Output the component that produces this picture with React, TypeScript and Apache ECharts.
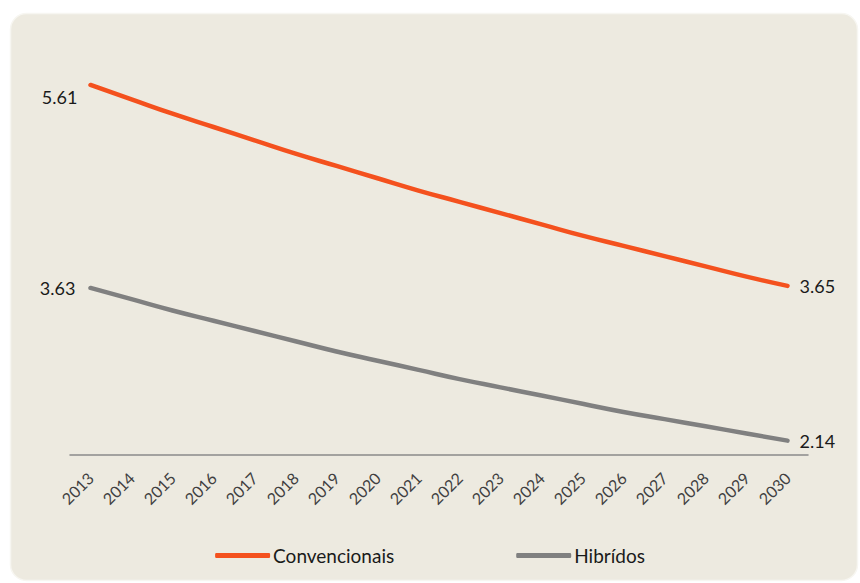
import React, { useEffect, useRef } from "react";
import * as echarts from "echarts";

// Projected consumption per vehicle type, 2013–2030
const years = [
  "2013", "2014", "2015", "2016", "2017", "2018", "2019", "2020", "2021",
  "2022", "2023", "2024", "2025", "2026", "2027", "2028", "2029", "2030",
];
const convencionais = [
  5.61, 5.47, 5.33, 5.2, 5.07, 4.94, 4.82, 4.7, 4.58,
  4.47, 4.36, 4.25, 4.14, 4.04, 3.94, 3.84, 3.74, 3.65,
];
const hibridos = [
  3.63, 3.52, 3.41, 3.31, 3.21, 3.11, 3.01, 2.92, 2.83,
  2.74, 2.66, 2.58, 2.5, 2.42, 2.35, 2.28, 2.21, 2.14,
];
const seriesNames = ["Convencionais", "Hibrídos"];

const FONT = "Lato, 'Open Sans', sans-serif";

// Only the first and last points carry a value label
function endLabels(values: number[], firstOffset: number[], firstDistance: number) {
  const last = values.length - 1;
  return values.map((v, i) => {
    if (i === 0) {
      return {
        value: v,
        label: { show: true, position: "left", distance: firstDistance, offset: firstOffset },
      };
    }
    if (i === last) {
      return { value: v, label: { show: true, position: "right", distance: 12 } };
    }
    return v;
  });
}

export default function App() {
  const ref = useRef<HTMLDivElement>(null);

  useEffect(() => {
    if (!ref.current) return;
    const chart = echarts.init(ref.current, null, { renderer: "svg" });
    const labelStyle = {
      show: false,
      color: "#1a1a1a",
      fontSize: 18,
      fontFamily: FONT,
      formatter: (p: any) => Number(p.value).toFixed(2),
    };
    chart.setOption({
      animation: false,
      backgroundColor: "#ffffff",
      graphic: [
        {
          type: "rect",
          z: -10,
          silent: true,
          shape: { x: 10.5, y: 13.5, width: 847, height: 567, r: 16 },
          style: { fill: "#EDEAE0", stroke: "#F7F6F1", lineWidth: 1.5 },
        },
      ],
      grid: { left: 70, right: 52, top: 45, bottom: 128, containLabel: false },
      xAxis: {
        type: "category",
        data: years,
        boundaryGap: true,
        axisLine: { show: true, lineStyle: { color: "#8a8a8a", width: 1.5 } },
        axisTick: { show: false },
        axisLabel: {
          rotate: 45,
          margin: 20,
          color: "#404040",
          fontSize: 16,
          fontFamily: FONT,
          interval: 0,
        },
        splitLine: { show: false },
      },
      yAxis: {
        type: "value",
        min: 2,
        max: 6,
        show: false,
        splitLine: { show: false },
      },
      legend: {
        bottom: 13,
        left: "center",
        itemWidth: 55,
        itemHeight: 5,
        itemGap: 122,
        icon: "roundRect",
        textStyle: { color: "#1a1a1a", fontSize: 19, fontFamily: FONT, padding: [0, 0, 0, -2] },
        data: seriesNames,
      },
      series: [
        {
          name: seriesNames[0],
          type: "line",
          smooth: true,
          showSymbol: true,
          symbol: "circle",
          symbolSize: 0.1,
          data: endLabels(convencionais, [0, 12], 13),
          lineStyle: { color: "#F4511E", width: 4.5, cap: "round" },
          itemStyle: { color: "#F4511E" },
          label: labelStyle,
        },
        {
          name: seriesNames[1],
          type: "line",
          smooth: true,
          showSymbol: true,
          symbol: "circle",
          symbolSize: 0.1,
          data: endLabels(hibridos, [0, 0], 15),
          lineStyle: { color: "#808080", width: 4.5, cap: "round" },
          itemStyle: { color: "#808080" },
          label: labelStyle,
        },
      ],
    });
    return () => chart.dispose();
  }, []);

  return (
    <div
      ref={ref}
      style={{ position: "fixed", left: 0, top: 0, width: 860, height: 583 }}
    />
  );
}
